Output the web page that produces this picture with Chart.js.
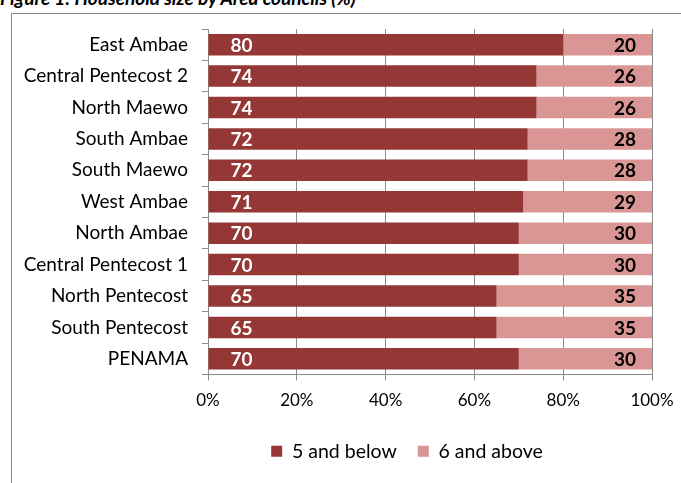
<!DOCTYPE html>
<html>
<head>
<meta charset="utf-8">
<script src="https://cdn.jsdelivr.net/npm/chart.js@4"></script>
<style>
  html, body { margin: 0; padding: 0; background: #fff; }
  body { width: 681px; height: 483px; position: relative; overflow: hidden; }
  #title {
    position: absolute; left: 0; top: -14px; white-space: nowrap;
    font: italic bold 19px Lato, sans-serif; color: #000;
  }
  #frame {
    position: absolute; left: 11px; top: 13px; width: 700px; height: 500px;
    border-left: 1.5px solid #8a8a8a; border-top: 1.5px solid #8a8a8a;
  }
  #wrap { position: absolute; left: 0; top: 0; width: 681px; height: 483px; }
</style>
</head>
<body>
<div id="title">Figure 1: Household size by Area councils (%)</div>
<div id="frame"></div>
<div id="wrap"><canvas id="chart"></canvas></div>
<script>
const councils = [
  'East Ambae', 'Central Pentecost 2', 'North Maewo', 'South Ambae', 'South Maewo',
  'West Ambae', 'North Ambae', 'Central Pentecost 1', 'North Pentecost', 'South Pentecost', 'PENAMA',
];
const fiveAndBelow = [80, 74, 74, 72, 72, 71, 70, 70, 65, 65, 70];
const sixAndAbove = [20, 26, 26, 28, 28, 29, 30, 30, 35, 35, 30];
const pctTicks = [0, 20, 40, 60, 80, 100];

const DARK = '#953735';
const LIGHT = '#D99694';
const GRID = '#8c8c8c';

// value labels inside the bars: white at the base of the dark bar, black at the end of the light one
const barLabels = {
  id: 'barLabels',
  afterDatasetsDraw(chart) {
    const ctx = chart.ctx;
    ctx.save();
    ctx.font = 'bold 19px Lato, sans-serif';
    ctx.textBaseline = 'middle';
    chart.data.datasets.forEach((ds, di) => {
      chart.getDatasetMeta(di).data.forEach((bar, i) => {
        const v = ds.data[i];
        if (di === 0) {
          ctx.fillStyle = '#fff';
          ctx.textAlign = 'left';
          ctx.fillText(v, bar.base + 22, bar.y + 1);
        } else {
          ctx.fillStyle = '#000';
          ctx.textAlign = 'right';
          ctx.fillText(v, bar.x - 16, bar.y + 1);
        }
      });
    });
    ctx.restore();
  },
};

// legend sits a little left of the plot's middle
const legendShift = {
  id: 'legendShift',
  afterLayout(chart) {
    const lg = chart.legend;
    const shift = chart.chartArea.left + 199 - (lg.left + lg.right) / 2;
    lg.left += shift;
    lg.right += shift;
  },
};

new Chart(document.getElementById('chart'), {
  type: 'bar',
  data: {
    labels: councils,
    datasets: [
      { label: '5 and below', data: fiveAndBelow, backgroundColor: DARK },
      { label: '6 and above', data: sixAndAbove, backgroundColor: LIGHT },
    ],
  },
  options: {
    indexAxis: 'y',
    responsive: true,
    maintainAspectRatio: false,
    animation: false,
    datasets: { bar: { categoryPercentage: 1, barPercentage: 0.685 } },
    layout: { padding: { left: 0, right: 29, top: 29, bottom: 12 } },
    scales: {
      x: {
        stacked: true,
        min: 0,
        max: 100,
        afterBuildTicks: (s) => { s.ticks = pctTicks.map((v) => ({ value: v })); },
        afterFit: (s) => {
          s.height = 46;
          // the layout padding already leaves room for "100%"
          s.paddingLeft = 0;
          s.paddingRight = 0;
        },
        grid: { color: GRID, tickLength: 6, lineWidth: 1 },
        border: { color: GRID },
        ticks: {
          color: '#000', padding: 10,
          font: { family: 'Lato, sans-serif', size: 17 },
          callback: (v) => v + '%',
        },
      },
      y: {
        stacked: true,
        afterFit: (s) => { s.width = 208; },
        grid: { drawOnChartArea: false, color: GRID, tickLength: 6 },
        border: { color: GRID },
        ticks: {
          color: '#000', padding: 14, autoSkip: false,
          font: { family: 'Lato, sans-serif', size: 19 },
        },
      },
    },
    plugins: {
      legend: {
        position: 'bottom',
        labels: {
          color: '#000', boxWidth: 11, boxHeight: 11, padding: 21,
          font: { family: 'Lato, sans-serif', size: 19.5 },
        },
      },
      tooltip: { enabled: false },
    },
  },
  plugins: [barLabels, legendShift],
});
</script>
</body>
</html>
